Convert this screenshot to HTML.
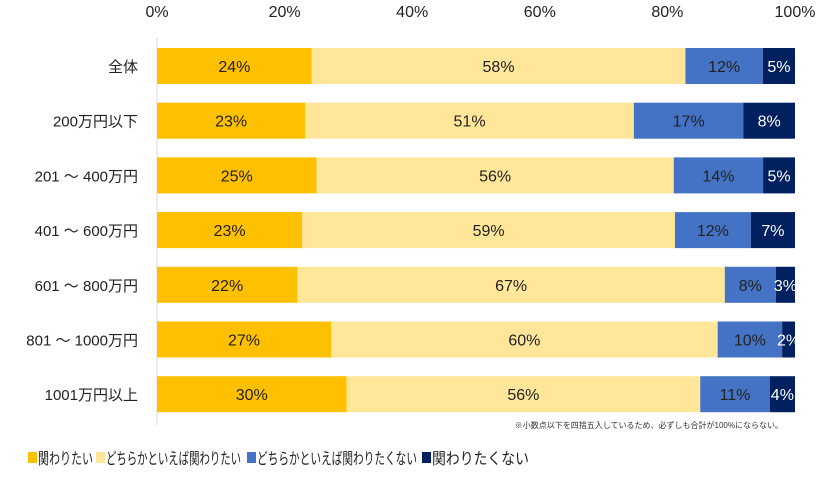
<!DOCTYPE html>
<html><head><meta charset="utf-8"><style>
body{margin:0;background:#fff;}
svg text{font-family:"Liberation Sans","Noto Sans CJK JP",sans-serif;}
</style></head><body>
<svg width="826" height="472" id="c">
<line x1="157" y1="38" x2="157" y2="425" stroke="#d9d9d9"/>
<g id="ticks"></g><g id="bars"></g>
<text x="783" y="428" font-size="8" text-anchor="end" fill="#333">※小数点以下を四捨五入しているため、必ずしも合計が100%にならない。</text>
<g id="legend"></g>
</svg>
<script>
const categories=["全体","200万円以下","201 ～ 400万円","401 ～ 600万円","601 ～ 800万円","801 ～ 1000万円","1001万円以上"];
const seriesNames=["関わりたい","どちらかといえば関わりたい","どちらかといえば関わりたくない","関わりたくない"];
const s1=[24,23,25,23,22,27,30];
const s2=[58,51,56,59,67,60,56];
const s3=[12,17,14,12,8,10,11];
const s4=[5,8,5,7,3,2,4];
const tickLabels=["0%","20%","40%","60%","80%","100%"];
const tickValues=[0,20,40,60,80,100];
const colors=["#FFC000","#FFE699","#4472C4","#002060"];
const textColors=["#222","#222","#222","#fff"];
const ns="http://www.w3.org/2000/svg";
const x=v=>157+v/100*638;
const y=i=>48+i*54.7;
const bh=36;
const T=document.getElementById('ticks'),B=document.getElementById('bars'),L=document.getElementById('legend');
function mk(t,a,p){const e=document.createElementNS(ns,t);for(const k in a)e.setAttribute(k,a[k]);p.appendChild(e);return e;}
tickValues.forEach((v,i)=>{const t=mk('text',{x:x(v),y:17,'font-size':16,'text-anchor':'middle',fill:'#222'},T);t.textContent=tickLabels[i];

});
const series=[s1,s2,s3,s4];
categories.forEach((c,i)=>{
const t=mk('text',{x:138,y:y(i)+bh/2+6,'font-size':15,'text-anchor':'end',fill:'#222'},B);t.textContent=c;


const sum=series.reduce((a,s)=>a+s[i],0);let acc=0;
series.forEach((s,k)=>{const v=s[i]/sum*100;
const r=mk('rect',{x:x(acc),y:y(i),width:x(acc+v)-x(acc),height:bh,fill:colors[k]},B);


const lt=mk('text',{x:x(acc+v/2),y:y(i)+bh/2+6,'font-size':16,'text-anchor':'middle',fill:textColors[k]},B);lt.textContent=s[i]+'%';


acc+=v;});
});
const lx=[28,96,247,422];
const lw=[55,135,160,97];
seriesNames.forEach((n,k)=>{const r=mk('rect',{x:lx[k],y:452,width:9,height:11,fill:colors[k]},L);


const t=mk('text',{x:lx[k]+10,y:464,'font-size':16,fill:'#222',textLength:lw[k],lengthAdjust:'spacingAndGlyphs'},L);t.textContent=n;

});
</script>
</body></html>
